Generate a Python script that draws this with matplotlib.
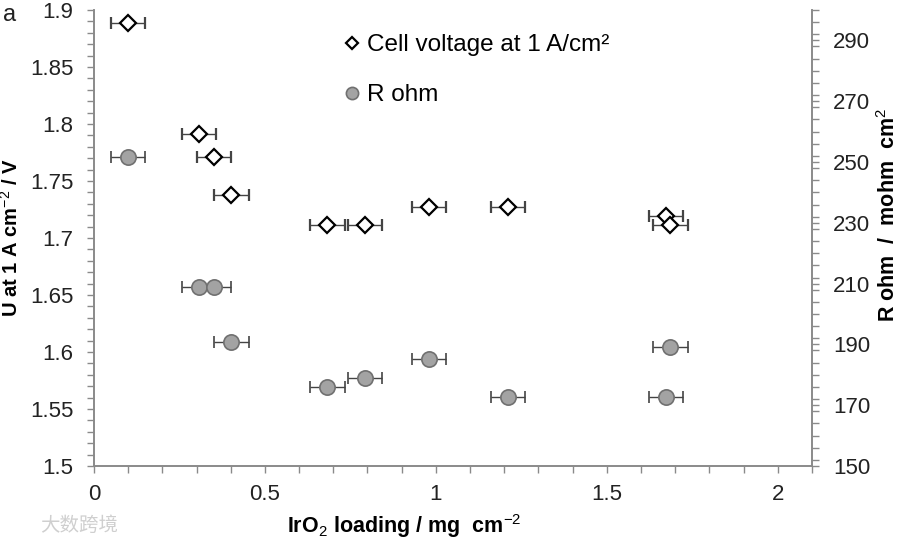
import matplotlib.pyplot as plt
from matplotlib.ticker import MultipleLocator

plt.rcParams['font.family'] = ['Liberation Sans', 'DejaVu Sans']
plt.rcParams['mathtext.fontset'] = 'custom'
plt.rcParams['mathtext.rm'] = 'Liberation Sans'
plt.rcParams['mathtext.bf'] = 'Liberation Sans:bold'

# loading IrO2 (mg/cm2)
carga = [0.10, 0.308, 0.352, 0.402, 0.683, 0.792, 0.979, 1.211, 1.672, 1.686]
voltaje = [1.889, 1.791, 1.771, 1.738, 1.711, 1.711, 1.727, 1.727, 1.719, 1.711]
carga_r = [0.10, 0.308, 0.352, 0.402, 0.683, 0.792, 0.979, 1.211, 1.672, 1.686]
r_ohm = [251.6, 209.0, 209.0, 190.7, 175.9, 178.9, 185.1, 172.6, 172.6, 189.0]
err_x = 0.05

fig = plt.figure(figsize=(9, 5.43), dpi=100)
ax = fig.add_axes([0.1044, 0.1418, 0.7978, 0.8398])
ax2 = ax.twinx()

gris = '#8a8a8a'

ax.errorbar(carga, voltaje, xerr=err_x, fmt='D', ms=8, mfc='white', mec='black',
            mew=1.6, ecolor='#444444', elinewidth=1, capsize=4, zorder=3,
            label='Cell voltage at 1 A/cm²')
ax2.errorbar(carga_r, r_ohm, xerr=err_x, fmt='o', ms=11, mfc='#a3a3a3', mec='#707070',
             mew=1.2, ecolor='#444444', elinewidth=1, capsize=4, zorder=3,
             label='R ohm')

ax.set_xlim(0, 2.1)
ax.set_ylim(1.5, 1.9)
ax2.set_ylim(150, 300)

ax.xaxis.set_major_locator(MultipleLocator(0.5))
ax.xaxis.set_minor_locator(MultipleLocator(0.1))
ax.yaxis.set_major_locator(MultipleLocator(0.05))
ax.yaxis.set_minor_locator(MultipleLocator(0.01))
ax2.set_yticks(range(150, 300, 20))
ax2.yaxis.set_minor_locator(MultipleLocator(4))
ax.xaxis.set_major_formatter(plt.FuncFormatter(lambda v, p: f'{v:g}'))
ax.yaxis.set_major_formatter(plt.FuncFormatter(lambda v, p: f'{v:g}'))

for a in (ax, ax2):
    a.spines['top'].set_visible(False)
    for s in ('left', 'right', 'bottom'):
        a.spines[s].set_color(gris)
        a.spines[s].set_linewidth(1.2)
    a.tick_params(which='both', direction='out', color=gris, labelsize=16,
                  labelcolor='#222222', length=5, width=1)
    a.set_facecolor('none')

ax.tick_params(axis='x', pad=8)
ax.tick_params(axis='y', pad=10)
ax2.tick_params(axis='y', pad=10)
ax.set_xlabel('IrO$_2$ loading / mg  cm$^{-2}$', fontsize=15.5, fontweight='bold')
ax.xaxis.set_label_coords(0.432, -0.100)
ax.set_ylabel('U at 1 A cm$^{-2}$ / V', fontsize=14.5, fontweight='bold')
ax.yaxis.set_label_coords(-0.101, 0.50)
ax2.set_ylabel('R ohm  /  mohm  cm$^2$', fontsize=15.5, fontweight='bold')
ax2.yaxis.set_label_coords(1.091, 0.55)

h1, l1 = ax.get_legend_handles_labels()
h2, l2 = ax2.get_legend_handles_labels()
leg = ax.legend([h1[0][0], h2[0][0]], l1 + l2, loc='upper left',
                bbox_to_anchor=(0.3496, 0.947), frameon=False, fontsize=17.5,
                borderaxespad=0, borderpad=0,
                handlelength=0.6, handletextpad=0.3, labelspacing=1.15,
                markerscale=0.8)

fig.text(0.003, 0.962, 'a', fontsize=17, color='#222222')
fig.text(0.045, 0.022, '大数跨境', fontsize=14, color='#cfcfcf',
         family=['Noto Sans CJK SC', 'DejaVu Sans'])

plt.savefig('out.png', dpi=100)
